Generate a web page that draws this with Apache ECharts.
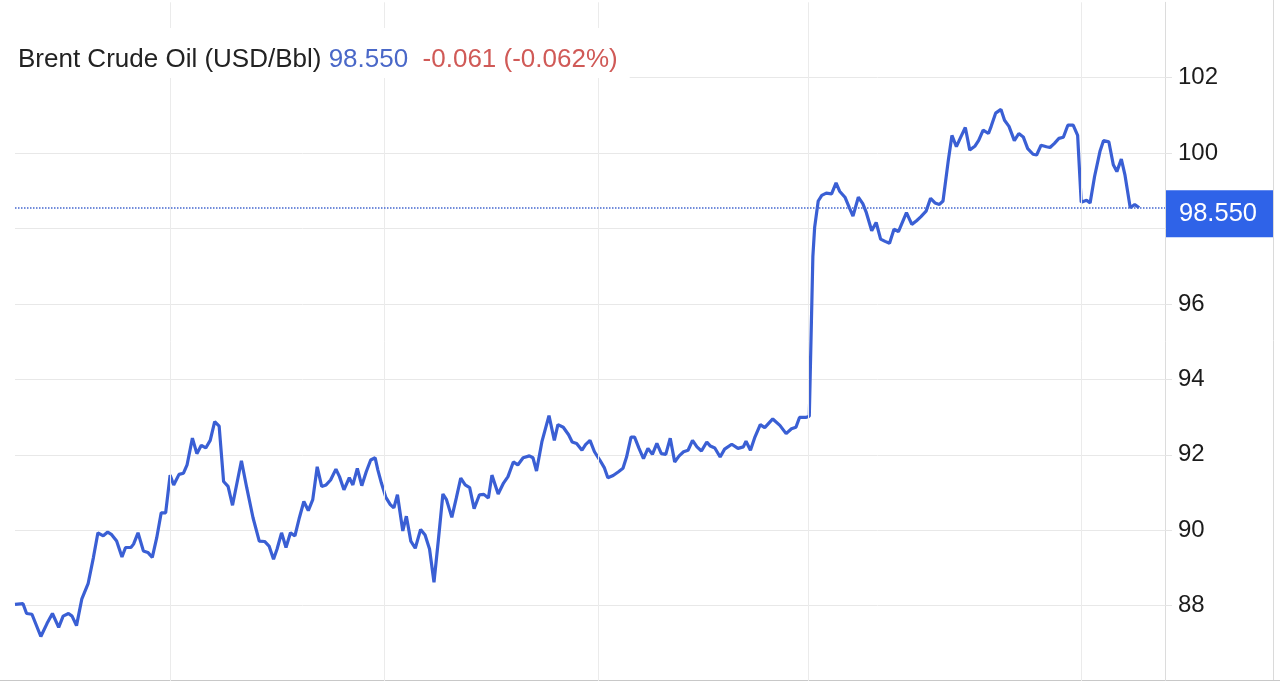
<!DOCTYPE html>
<html lang="en">
<head>
    <meta charset="utf-8">
    <title>Brent Crude Oil</title>
    <script src="https://cdn.jsdelivr.net/npm/echarts@6/dist/echarts.min.js"></script>
    <style>
        html, body { margin: 0; padding: 0; background: #fff; }
        #main { width: 1280px; height: 681px; }
    </style>
</head>
<body>
<div id="main"></div>
<script type="text/javascript">
    // quote header
    var seriesName = 'Brent Crude Oil (USD/Bbl)';
    var lastPrice = 98.550;
    var change = '-0.061';
    var changePct = '(-0.062%)';

    // hours since the first bar
    var hours = [0.0, 0.9, 1.3, 1.9, 2.9, 3.6, 4.2, 4.9, 5.4, 6.0,
        6.4, 6.9, 7.5, 8.2, 8.8, 9.3, 9.9, 10.4, 10.8, 11.4,
        12.0, 12.4, 13.0, 13.3, 13.8, 14.4, 14.9, 15.4, 15.9, 16.4,
        16.9, 17.4, 17.8, 18.4, 18.9, 19.3, 19.9, 20.4, 20.9, 21.4,
        21.9, 22.4, 22.9, 23.4, 23.9, 24.4, 25.4, 26.0, 26.7, 27.4,
        28.0, 28.5, 29.0, 29.4, 29.9, 30.4, 30.9, 31.4, 31.9, 32.4,
        32.9, 33.4, 33.9, 34.4, 34.9, 35.4, 36.0, 36.4, 36.9, 37.5,
        37.9, 38.4, 38.9, 39.4, 39.9, 40.4, 40.7, 41.1, 41.6, 42.1,
        42.5, 42.9, 43.5, 43.9, 44.4, 44.9, 45.5, 46.0, 46.5, 47.0,
        47.5, 48.0, 48.4, 49.0, 49.5, 50.0, 50.5, 51.0, 51.5, 52.1,
        52.6, 53.1, 53.5, 54.2, 54.8, 55.3, 55.9, 56.4, 57.0, 57.7,
        58.1, 58.5, 59.1, 59.9, 60.5, 60.9, 61.5, 62.1, 62.5, 63.0,
        63.6, 64.0, 64.5, 65.0, 65.6, 66.1, 66.5, 67.1, 67.7, 68.2,
        68.6, 69.1, 69.5, 70.0, 70.5, 71.0, 71.5, 72.0, 72.5, 73.0,
        73.5, 74.0, 74.5, 75.0, 75.5, 76.0, 76.5, 77.0, 77.6, 78.0,
        78.5, 79.1, 79.6, 80.4, 81.1, 81.7, 82.0, 82.5, 83.0, 83.6,
        84.1, 85.0, 85.8, 86.5, 87.1, 87.6, 88.0, 88.7,
        89.1, 89.5, 89.7, 90.1, 90.5, 91.0, 91.6, 92.1, 92.5, 93.1,
        93.6, 94.0, 94.6, 95.1, 95.5, 96.1, 96.6, 97.1, 97.6, 98.1,
        98.6, 99.1, 100.0, 100.6, 101.1, 101.6, 102.2, 102.7, 103.2,
        103.7, 104.1, 104.7, 105.1, 105.6, 106.1, 106.6, 107.1, 107.7, 108.1,
        108.6, 109.2, 109.5, 110.0, 110.6, 111.0, 111.5, 112.1, 112.6, 113.1,
        113.6, 114.2, 114.6, 115.1, 115.7, 116.1, 116.6, 117.1, 117.6, 118.1,
        118.7, 119.2, 119.6, 120.2, 120.6, 121.1, 121.7, 122.1, 122.7, 123.2,
        123.6, 124.1, 124.5, 125.1, 125.6, 126.1];

    var prices = [88.03, 88.05, 87.79, 87.77, 87.18, 87.53, 87.79, 87.42, 87.72, 87.79,
        87.72, 87.47, 88.18, 88.58, 89.28, 89.93, 89.85, 89.95, 89.89, 89.71,
        89.29, 89.54, 89.54, 89.63, 89.93, 89.45, 89.41, 89.28, 89.80, 90.46,
        90.46, 91.46, 91.20, 91.48, 91.51, 91.73, 92.44, 92.03, 92.25, 92.18,
        92.38, 92.88, 92.76, 91.29, 91.16, 90.66, 91.84, 91.12, 90.33, 89.71,
        89.70, 89.58, 89.23, 89.50, 89.93, 89.54, 89.93, 89.85, 90.33, 90.76,
        90.52, 90.81, 91.68, 91.16, 91.20, 91.33, 91.62, 91.42, 91.07, 91.39,
        91.20, 91.64, 91.18, 91.55, 91.86, 91.92, 91.60, 91.25, 90.87, 90.68,
        90.59, 90.94, 89.98, 90.37, 89.71, 89.52, 90.02, 89.87, 89.50, 88.62,
        89.76, 90.96, 90.81, 90.34, 90.85, 91.38, 91.20, 91.13, 90.57, 90.94,
        90.95, 90.85, 91.46, 90.96, 91.25, 91.42, 91.81, 91.73, 91.92, 91.97,
        91.92, 91.57, 92.34, 93.04, 92.38, 92.80, 92.73, 92.53, 92.34, 92.30,
        92.12, 92.27, 92.38, 92.08, 91.86, 91.66, 91.39, 91.45, 91.55, 91.64,
        91.94, 92.47, 92.47, 92.17, 91.90, 92.17, 92.01, 92.30, 92.03, 92.01,
        92.44, 91.81, 91.97, 92.08, 92.12, 92.38, 92.21, 92.10, 92.34, 92.23,
        92.18, 91.94, 92.15, 92.28, 92.17, 92.21, 92.36, 92.12, 92.47, 92.80,
        92.72, 92.95, 92.78, 92.56, 92.69, 92.73, 92.99, 92.99,
        93.02, 97.26, 98.03, 98.73, 98.88, 98.94, 98.92, 99.21, 98.99, 98.83,
        98.55, 98.33, 98.83, 98.66, 98.42, 97.94, 98.16, 97.72, 97.66, 97.61,
        97.98, 97.92, 98.42, 98.11, 98.20, 98.31, 98.46, 98.80, 98.68,
        98.64, 98.73, 99.82, 100.47, 100.17, 100.43, 100.68, 100.08, 100.19, 100.34,
        100.61, 100.52, 100.71, 101.06, 101.16, 100.87, 100.71, 100.33, 100.52, 100.43,
        100.12, 99.97, 99.95, 100.21, 100.17, 100.15, 100.26, 100.39, 100.42, 100.74,
        100.74, 100.47, 98.70, 98.75, 98.68, 99.38, 100.04, 100.33, 100.30, 99.69,
        99.51, 99.84, 99.43, 98.55, 98.64, 98.55];

    // session starts (vertical grid lines)
    var sessionBreaks = [17.4, 41.4, 65.4, 89.0, 119.6];

    var font = "'Liberation Sans', Arial, Helvetica, sans-serif";
    var myChart = echarts.init(document.getElementById('main'));

    option = {
        animation: false,
        textStyle: { fontFamily: font },
        title: {
            text: '{n|' + seriesName + '} {p|' + lastPrice.toFixed(3) + '}  {c|' + change + ' ' + changePct + '}',
            left: 0,
            top: 28,
            padding: [19, 12, 5, 18],
            backgroundColor: '#fff',
            textStyle: {
                fontFamily: font,
                fontWeight: 'normal',
                fontSize: 26,
                rich: {
                    n: { fontSize: 26, fontWeight: 'normal', color: '#222', fontFamily: font },
                    p: { fontSize: 26, fontWeight: 'normal', color: '#4a68c8', fontFamily: font },
                    c: { fontSize: 26, fontWeight: 'normal', color: '#d05a57', fontFamily: font }
                }
            }
        },
        grid: {
            left: 15,
            width: 1150,
            top: 2.3,
            height: 686
        },
        xAxis: {
            type: 'value',
            min: 0,
            max: 129,
            show: false
        },
        yAxis: {
            type: 'value',
            position: 'right',
            min: 86,
            max: 104,
            interval: 2,
            axisLine: { show: true, onZero: false, lineStyle: { color: '#dcdcdc', width: 1 } },
            axisTick: { show: true, length: 7, lineStyle: { color: '#e4e4e4' } },
            axisLabel: {
                margin: 13,
                fontSize: 24,
                color: '#1c1c1c',
                fontFamily: font,
                showMinLabel: false,
                showMaxLabel: false
            },
            splitLine: { show: true, showMaxLine: false, lineStyle: { color: '#e8e8e8', width: 1 } }
        },
        graphic: [
            { type: 'line', shape: { x1: 1273.5, y1: 0, x2: 1273.5, y2: 681 }, style: { stroke: '#dadada', lineWidth: 1 } },
            { type: 'line', shape: { x1: 0, y1: 680.5, x2: 1280, y2: 680.5 }, style: { stroke: '#c8c8c8', lineWidth: 1 } }
        ],
        series: [{
            // vertical grid lines at session starts
            type: 'line',
            data: [],
            z: 1,
            markLine: {
                silent: true,
                symbol: 'none',
                label: { show: false },
                lineStyle: { color: '#ebebeb', type: 'solid', width: 1 },
                data: sessionBreaks.map(function (h) { return { xAxis: h }; })
            }
        }, {
            name: seriesName,
            type: 'line',
            z: 3,
            showSymbol: false,
            symbol: 'none',
            lineStyle: { color: '#3a5fd4', width: 3.2 },
            data: hours.map(function (h, i) { return [h, prices[i]]; }),
            markLine: {
                silent: true,
                symbol: 'none',
                lineStyle: { color: '#4467d0', type: 'dotted', width: 1.5 },
                label: {
                    position: 'end',
                    distance: 1,
                    formatter: function () { return lastPrice.toFixed(3); },
                    backgroundColor: '#2f63e8',
                    color: '#fff',
                    fontSize: 25.5,
                    fontFamily: font,
                    padding: [10, 16, 11, 13],
                    offset: [0, 6]
                },
                data: [{ yAxis: lastPrice }]
            }
        }]
    };
    myChart.setOption(option);
</script>
</body>
</html>
